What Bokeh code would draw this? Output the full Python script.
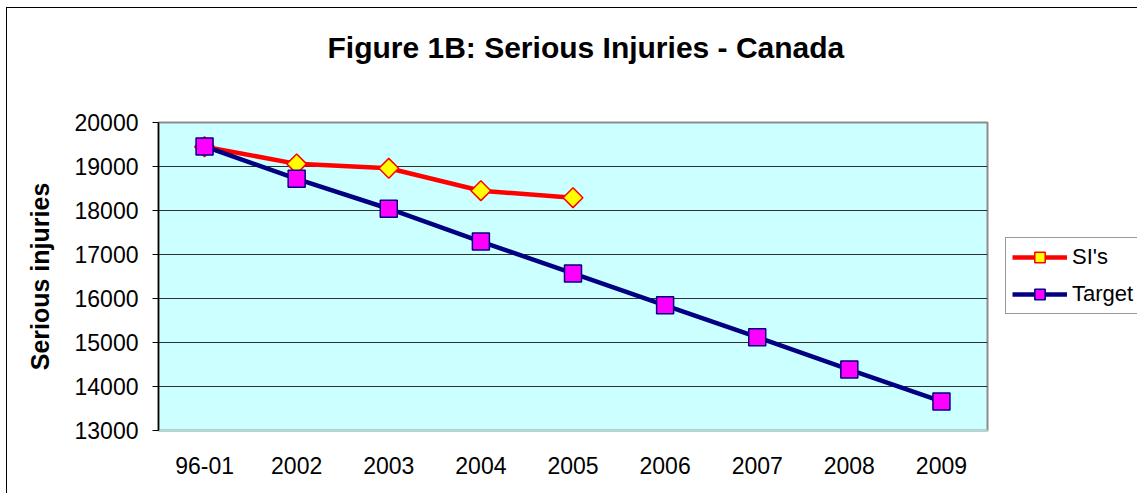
from bokeh.plotting import figure
from bokeh.models import Legend, LegendItem, FixedTicker, Range1d, FactorRange, Title
from bokeh.layouts import row
from bokeh.embed import file_html
from bokeh.resources import INLINE
import math

categories = ["96-01", "2002", "2003", "2004", "2005", "2006", "2007", "2008", "2009"]
si_categories = ["96-01", "2002", "2003", "2004", "2005"]
si_values = [19450, 19060, 18960, 18450, 18290]
target_values = [19455, 18720, 18040, 17295, 16570, 15845, 15120, 14386, 13660]
y_ticks = [13000, 14000, 15000, 16000, 17000, 18000, 19000, 20000]
series_names = ["SI's", "Target"]
chart_title = "Figure 1B: Serious Injuries - Canada"

FONT = "Liberation Sans"
SI_STYLE = dict(line_color="#FF0000", line_width=4.5)
SI_MARK = dict(marker="square", angle=math.pi / 4, size=14,
               fill_color="#FFFF00", line_color="#FF0000", line_width=1.5)
T_STYLE = dict(line_color="#000080", line_width=4.5)
T_MARK = dict(marker="square", size=17, fill_color="#FF00FF", line_color="#000080", line_width=1.5)

p = figure(width=1000, height=493, x_range=categories, y_range=(13000, 20000),
           output_backend="svg", toolbar_location=None,
           min_border_left=158, min_border_right=13, min_border_top=122, min_border_bottom=63)

p.background_fill_color = "#CCFFFF"
p.border_fill_alpha = 0
p.outline_line_color = "#8c8c8c"
p.outline_line_width = 2

# spacer between frame and title, then the title itself (stacked outward from the frame)
p.add_layout(Title(text=" ", text_font_size="1px", standoff=56), "above")
p.add_layout(Title(text=chart_title, text_font=FONT, text_font_size="30px",
                   text_font_style="bold", text_color="black", align="left",
                   offset=169, standoff=0), "above")

p.xgrid.grid_line_color = None
p.ygrid.ticker = FixedTicker(ticks=y_ticks)
p.ygrid.grid_line_color = "#2f2f2f"
p.ygrid.grid_line_width = 1

p.yaxis.ticker = FixedTicker(ticks=y_ticks)
p.yaxis.axis_label = "Serious injuries"
p.yaxis.axis_label_text_font = FONT
p.yaxis.axis_label_text_font_size = "25px"
p.yaxis.axis_label_text_font_style = "bold"
p.yaxis.axis_label_text_color = "black"
p.yaxis.axis_label_standoff = 18
p.yaxis.major_label_text_font = FONT
p.yaxis.major_label_text_font_size = "23px"
p.yaxis.major_label_text_color = "black"
p.yaxis.major_label_standoff = 14
p.yaxis.major_tick_in = 0
p.yaxis.major_tick_out = 6
p.yaxis.minor_tick_line_color = None
p.yaxis.axis_line_color = "black"
p.yaxis.axis_line_width = 1.5
p.yaxis.major_tick_line_color = "black"

p.xaxis.major_label_text_font = FONT
p.xaxis.major_label_text_font_size = "23px"
p.xaxis.major_label_text_color = "black"
p.xaxis.major_label_standoff = 20
p.xaxis.major_tick_line_color = None
p.xaxis.axis_line_color = "#b4dcdc"
p.xaxis.axis_line_width = 2

p.line(si_categories, si_values, **SI_STYLE)
p.scatter(si_categories, si_values, **SI_MARK)
p.line(categories, target_values, **T_STYLE)
p.scatter(categories, target_values, **T_MARK)

# Legend panel: a second figure to the right; its series lie outside its (0..1) view,
# so only the legend is visible.
q = figure(width=137, height=493, x_range=FactorRange(*categories), y_range=Range1d(0, 1),
           output_backend="svg", toolbar_location=None,
           min_border_left=0, min_border_right=0, min_border_top=0, min_border_bottom=0,
           x_axis_type=None, y_axis_type=None)
q.grid.visible = False
q.outline_line_color = None
q.background_fill_alpha = 0
q.border_fill_alpha = 0
ql1 = q.line(si_categories, si_values, **SI_STYLE)
qm1 = q.scatter(si_categories, si_values, **SI_MARK)
ql2 = q.line(categories, target_values, **T_STYLE)
qm2 = q.scatter(categories, target_values, **T_MARK)

legend = Legend(items=[LegendItem(label=series_names[0], renderers=[ql1, qm1]),
                       LegendItem(label=series_names[1], renderers=[ql2, qm2])],
                location=(5, 116))
legend.label_text_font = FONT
legend.label_text_font_size = "22px"
legend.label_text_color = "black"
legend.glyph_width = 55
legend.glyph_height = 26
legend.label_height = 26
legend.label_standoff = 5
legend.spacing = 11
legend.padding = 6
legend.margin = 0
legend.border_line_color = "#333333"
legend.border_line_width = 1
legend.background_fill_color = "white"
legend.background_fill_alpha = 1
q.add_layout(legend, "center")

layout = row(p, q, spacing=0)
layout.styles = {
    "background": "linear-gradient(#000, #000) 6px 7px / 1px 100% no-repeat, "
                  "linear-gradient(#000, #000) 6px 7px / 100% 1px no-repeat, #ffffff"
}

open("out.html", "w").write(file_html(layout, INLINE))
